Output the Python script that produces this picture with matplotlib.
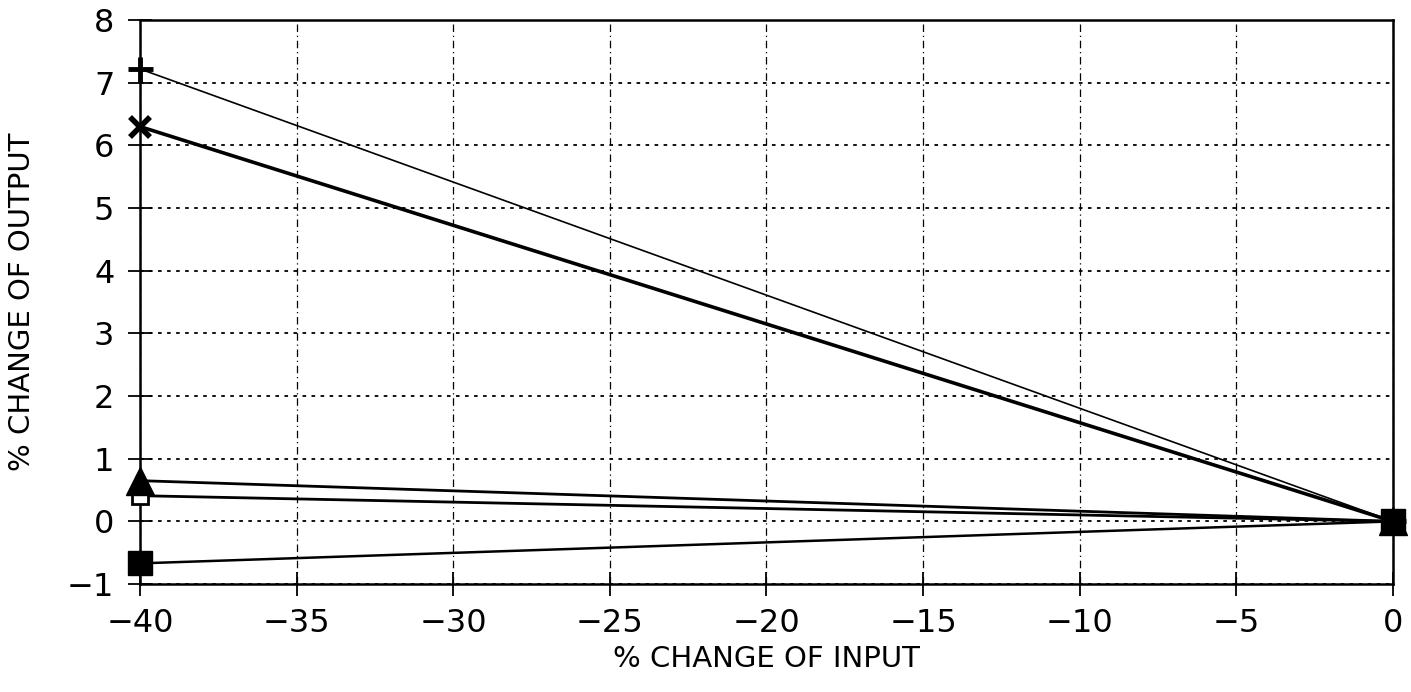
import numpy as np
import matplotlib.pyplot as plt

x_input = [-40, 0]
plus_out = [7.22, 0.0]
cross_out = [6.3, 0.0]
tri_out = [0.65, 0.0]
opensq_out = [0.41, 0.0]
fillsq_out = [-0.67, 0.0]

x_ticks = [-40, -35, -30, -25, -20, -15, -10, -5, 0]
y_ticks = [-1, 0, 1, 2, 3, 4, 5, 6, 7, 8]

plt.rcParams['font.family'] = ['DejaVu Sans']

fig = plt.figure(figsize=(14.11, 6.92), dpi=100)
ax = fig.add_axes([0.0992, 0.156, 0.888, 0.815])

ax.plot(x_input, plus_out, color='black', lw=1.2, marker='+', ms=18, mew=3.5,
        clip_on=False, zorder=5)
ax.plot(x_input, cross_out, color='black', lw=2.6, marker='x', ms=15, mew=4,
        clip_on=False, zorder=5)
ax.plot(x_input, tri_out, color='black', lw=2.0, marker='^', ms=20,
        clip_on=False, zorder=5)
ax.plot(x_input, opensq_out, color='black', lw=2.0, marker='s', ms=11,
        mfc='white', mec='black', mew=2, clip_on=False, zorder=4)
ax.plot(x_input, fillsq_out, color='black', lw=1.8, marker='s', ms=17,
        clip_on=False, zorder=5)

ax.set_xlim(-40, 0)
ax.set_ylim(-1, 8)
ax.set_xticks(x_ticks)
ax.set_yticks(y_ticks)
ax.set_xticklabels([str(v).replace('-', '\u2212') for v in x_ticks])
ax.set_yticklabels([str(v).replace('-', '\u2212') for v in y_ticks])

ax.yaxis.grid(True, linestyle=(0, (2, 3)), color='black', lw=1.3)
ax.xaxis.grid(True, linestyle=(0, (6, 3, 1, 3)), color='black', lw=0.9)
ax.set_axisbelow(True)
for s in ax.spines.values():
    s.set_linewidth(1.8)
ax.tick_params(axis='both', labelsize=23, length=17, width=1.3, direction='inout')
ax.tick_params(axis='y', pad=10)
ax.tick_params(axis='x', pad=9)

ax.set_xlabel('% CHANGE OF INPUT', fontsize=21, labelpad=4)
ax.set_ylabel('% CHANGE OF OUTPUT', fontsize=21, labelpad=22)

fig.savefig('out.png', dpi=100)
